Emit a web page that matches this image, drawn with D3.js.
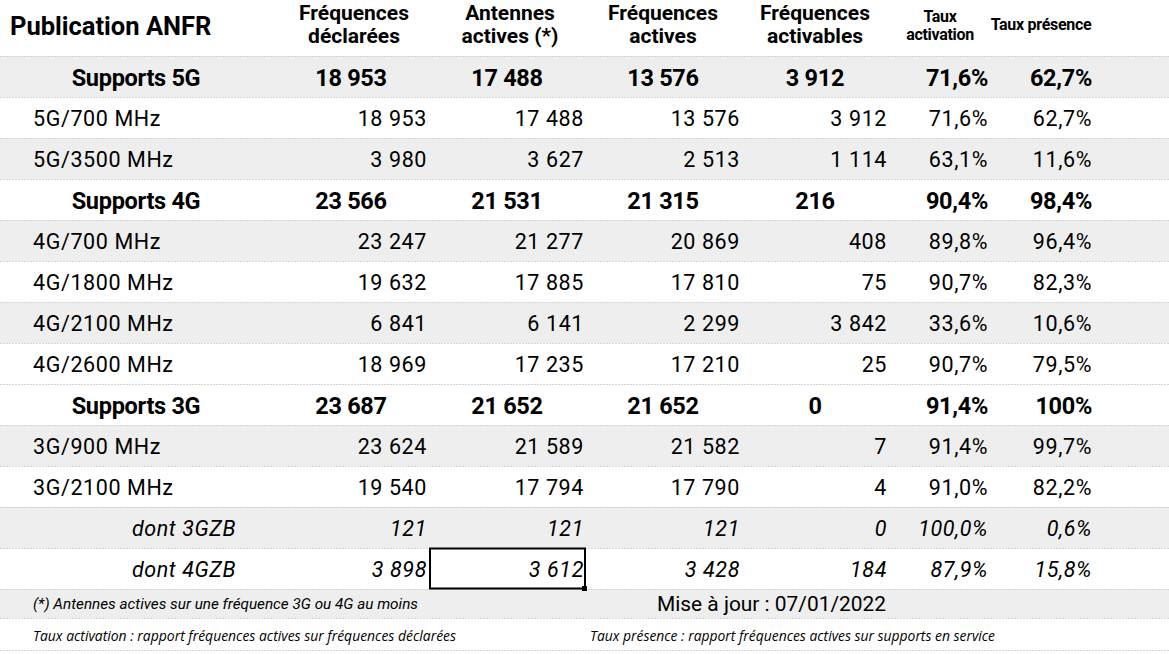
<!DOCTYPE html>
<html lang="fr">
<head>
<meta charset="UTF-8" />
<script src="https://d3js.org/d3.v7.min.js"></script>
<title>Publication ANFR</title>
<style>
  body { margin: 0; background: #fff; }
  svg { display: block; font-family: Roboto, "Noto Sans", sans-serif; }
</style>
</head>
<body>
<svg width="1169" height="654"></svg>
<script>
const title = "Publication ANFR"
const headers = [["Fréquences", "déclarées"], ["Antennes", "actives (*)"], ["Fréquences", "actives"],
                 ["Fréquences", "activables"], ["Taux", "activation"], ["Taux présence"]]
const rowLabels = ["Supports 5G", "5G/700 MHz", "5G/3500 MHz", "Supports 4G", "4G/700 MHz", "4G/1800 MHz",
                   "4G/2100 MHz", "4G/2600 MHz", "Supports 3G", "3G/900 MHz", "3G/2100 MHz", "dont 3GZB", "dont 4GZB"]
const rowKinds = ["group", "sub", "sub", "group", "sub", "sub", "sub", "sub", "group", "sub", "sub", "dont", "dont"]
const declarees = [18953, 18953, 3980, 23566, 23247, 19632, 6841, 18969, 23687, 23624, 19540, 121, 3898]
const antennes = [17488, 17488, 3627, 21531, 21277, 17885, 6141, 17235, 21652, 21589, 17794, 121, 3612]
const actives = [13576, 13576, 2513, 21315, 20869, 17810, 2299, 17210, 21652, 21582, 17790, 121, 3428]
const activables = [3912, 3912, 1114, 216, 408, 75, 3842, 25, 0, 7, 4, 0, 184]
const tauxActivation = ["71,6%", "71,6%", "63,1%", "90,4%", "89,8%", "90,7%", "33,6%", "90,7%", "91,4%", "91,4%", "91,0%", "100,0%", "87,9%"]
const tauxPresence = ["62,7%", "62,7%", "11,6%", "98,4%", "96,4%", "82,3%", "10,6%", "79,5%", "100%", "99,7%", "82,2%", "0,6%", "15,8%"]
const footnote = "(*) Antennes actives sur une fréquence 3G ou 4G au moins"
const updated = "Mise à jour : 07/01/2022"
const notes = ["Taux activation : rapport fréquences actives sur fréquences déclarées",
               "Taux présence : rapport fréquences actives sur supports en service"]

// lignes grisées (comme dans la feuille)
const shaded = [1, 0, 1, 0, 1, 0, 1, 0, 0, 1, 0, 1, 0]

const width = 1169
const fr = d3.formatLocale({ decimal: ",", thousands: "\u00a0", grouping: [3], currency: ["", "€"] })
const num = fr.format(",d")

// colonnes : ancre à droite pour les lignes de détail, centre pour les totaux
const columns = [
  { values: declarees, fmt: num, right: 427, center: 351, head: 354 },
  { values: antennes, fmt: num, right: 584, center: 507, head: 510 },
  { values: actives, fmt: num, right: 740, center: 663, head: 663 },
  { values: activables, fmt: num, right: 887, center: 815, head: 815 },
  { values: tauxActivation, fmt: d => d, right: 988, center: null, head: 940, small: true },
  { values: tauxPresence, fmt: d => d, right: 1092, center: null, head: 1041, small: true }
]

const y = d3.scaleBand().domain(d3.range(rowLabels.length)).range([56, 589])

const svg = d3.select("svg")

// fonds
svg.append("g").selectAll("rect").data(rowLabels).join("rect")
  .attr("x", 0).attr("width", width)
  .attr("y", (d, i) => y(i)).attr("height", y.bandwidth())
  .attr("fill", (d, i) => shaded[i] ? "#eeeeee" : "#fff")
svg.append("rect").attr("x", 0).attr("y", 589).attr("width", width).attr("height", 29).attr("fill", "#eeeeee")

// séparateurs pointillés
const lines = [56, ...rowLabels.map((d, i) => y(i) + y.bandwidth()), 618, 650]
svg.append("g").selectAll("line").data(lines).join("line")
  .attr("x1", 0).attr("x2", width).attr("y1", d => d + 0.5).attr("y2", d => d + 0.5)
  .attr("stroke", "#d4d4d4").attr("stroke-dasharray", "2,1")

// en-tête
svg.append("text").attr("x", 10).attr("y", 35).attr("font-size", 25.5).attr("font-weight", "bold")
  .attr("letter-spacing", 0).text(title)

const head = svg.append("g").attr("font-weight", "bold").attr("text-anchor", "middle")
columns.forEach((c, j) => {
  const lbl = headers[j]
  const fs = c.small ? 16 : 21
  const t = head.append("text").attr("x", c.head).attr("font-size", fs).attr("letter-spacing", c.small ? -0.3 : 0)
  if (lbl.length === 1) {
    t.attr("y", 30).text(lbl[0])
  } else {
    const ys = c.small ? [22, 40] : [20, 43]
    lbl.forEach((s, k) => t.append("tspan").attr("x", c.head).attr("y", ys[k]).text(s))
  }
})

// corps du tableau
const body = svg.append("g").attr("dominant-baseline", "central")
rowLabels.forEach((label, i) => {
  const kind = rowKinds[i]
  const cy = y(i) + y.bandwidth() / 2 + 1
  const row = body.append("g")
    .attr("font-size", kind === "group" ? 23.5 : 21.5)
    .attr("font-weight", kind === "group" ? "bold" : "normal")
    .attr("font-style", kind === "dont" ? "italic" : "normal")
    .attr("letter-spacing", kind === "group" ? -0.3 : 0.6)

  if (kind === "group") row.append("text").attr("x", 136).attr("y", cy).attr("text-anchor", "middle").text(label)
  else if (kind === "sub") row.append("text").attr("x", 33).attr("y", cy).text(label)
  else row.append("text").attr("x", 236).attr("y", cy).attr("text-anchor", "end").text(label)

  columns.forEach(c => {
    const v = c.fmt(c.values[i])
    if (kind === "group" && c.center != null) {
      row.append("text").attr("x", c.center).attr("y", cy).attr("text-anchor", "middle").text(v)
    } else {
      row.append("text").attr("x", c.right).attr("y", cy).attr("text-anchor", "end").text(v)
    }
  })
})

// cellule sélectionnée (3 612)
const sel = y(rowLabels.length - 1)
svg.append("rect").attr("x", 430).attr("y", sel + 0.5).attr("width", 155).attr("height", y.bandwidth() - 1)
  .attr("fill", "none").attr("stroke", "#000").attr("stroke-width", 2)
svg.append("rect").attr("x", 582).attr("y", sel + y.bandwidth() - 3).attr("width", 5).attr("height", 5).attr("fill", "#000")

// pied
svg.append("text").attr("x", 33).attr("y", 604).attr("dominant-baseline", "central")
  .attr("font-size", 15.5).attr("font-style", "italic").attr("textLength", 385).attr("lengthAdjust", "spacingAndGlyphs")
  .text(footnote)
svg.append("text").attr("x", 657).attr("y", 604).attr("dominant-baseline", "central")
  .attr("font-size", 20).attr("textLength", 229).attr("lengthAdjust", "spacingAndGlyphs")
  .text(updated)
svg.append("g").selectAll("text").data(notes).join("text")
  .attr("x", (d, i) => i ? 590 : 33).attr("y", 635).attr("dominant-baseline", "central")
  .attr("font-family", "'Open Sans', sans-serif").attr("font-style", "italic").attr("font-size", 15)
  .attr("textLength", (d, i) => i ? 405 : 423).attr("lengthAdjust", "spacingAndGlyphs")
  .text(d => d)
</script>
</body>
</html>
